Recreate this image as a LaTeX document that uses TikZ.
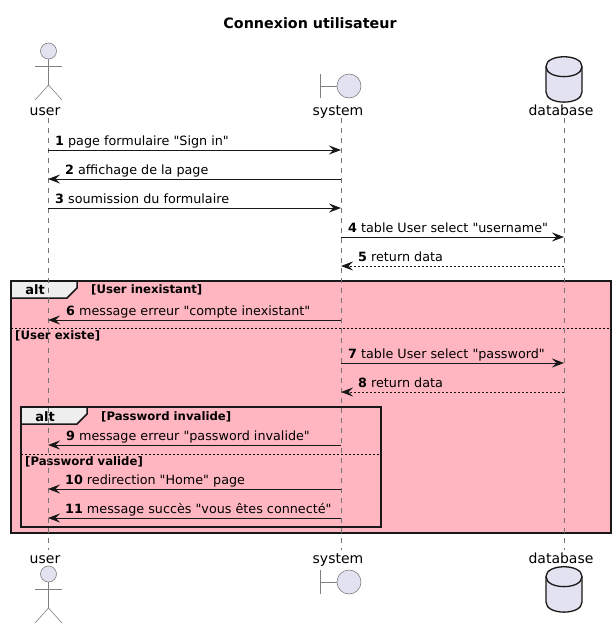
\documentclass[tikz,border=0pt]{standalone}
\usepackage{xcolor}
\usepackage{fontspec}
\setmainfont{DejaVu Sans}[Ligatures=TeXOff]
\usepackage{tikz}
\usetikzlibrary{arrows.meta,positioning}
\definecolor{partfill}{RGB}{226,226,240}
\definecolor{partline}{RGB}{24,24,24}
\definecolor{altpink}{RGB}{255,182,193}
\definecolor{tabgrey}{RGB}{238,238,238}
\tikzset{
  msgline/.style={-{Stealth[length=12pt,width=9pt,inset=4.5pt]},line width=1pt,partline},
  msgtext/.style={anchor=base west,inner sep=0pt,font=\fontsize{12.75}{15}\selectfont},
  partname/.style={anchor=base,inner sep=0pt,font=\fontsize{14}{16}\selectfont},
  lifeline/.style={partline!60,line width=0.5pt,dash pattern=on 5pt off 5pt},
  symline/.style={draw=partline!55,line width=0.6pt},
  symfill/.style={symline,fill=partfill},
  dbline/.style={draw=partline,fill=partfill,line width=1.3pt},
  altframe/.style={draw=partline,line width=2pt},
  alttab/.style={draw=partline,fill=tabgrey,line width=1.5pt},
  alttext/.style={anchor=base,inner sep=0pt,font=\fontsize{13}{15}\selectfont\bfseries},
  guardtext/.style={anchor=base west,inner sep=0pt,font=\fontsize{11.7}{13}\selectfont\bfseries},
  altsep/.style={black,line width=0.8pt,dash pattern=on 2pt off 2pt}
}
\begin{document}
\begin{tikzpicture}[x=1pt,y=-1pt]
  \useasboundingbox (0,0) rectangle (616,630);
  % Title
  \node[anchor=base,inner sep=0pt,font=\fontsize{14.3}{16}\selectfont\bfseries] (title) at (310,28) {Connexion utilisateur};
  % Outer alt
  \fill[altpink] (11,281) rectangle (611,533);
  \draw[alttab] (11,281) -- (77,281) -- (77,288) -- (67,298) -- (11,298) -- cycle;
  \draw[altframe] (11,281) rectangle (611,533);
  \node[alttext] (altOuter) at (35,294) {alt};
  \node[guardtext] (guardInexistant) at (91,293) {[User inexistant]};
  \draw[altsep] (11,328.5) -- (611,328.5);
  \node[guardtext] (guardExiste) at (15,339) {[User existe]};
  % Inner alt
  \draw[alttab] (21,407) -- (87,407) -- (87,414) -- (77,424) -- (21,424) -- cycle;
  \draw[altframe] (21,407) rectangle (381,526.5);
  \node[alttext] (altInner) at (45,421) {alt};
  \node[guardtext] (guardInvalide) at (101,420) {[Password invalide]};
  \draw[altsep] (21,454.5) -- (381,454.5);
  \node[guardtext] (guardValide) at (25,465) {[Password valide]};
  % Lifelines
  \foreach \who/\xx in {user/48,system/341,database/564} {
    \coordinate (\who Top) at (\xx,118);
    \coordinate (\who Bot) at (\xx,550);
    \draw[lifeline] (\who Top) -- (\who Bot);
  }
  % Names
  \foreach \pos/\yy in {Head/115,Foot/563} {
    \node[partname] (user\pos) at (45,\yy) {user};
    \node[partname] (system\pos) at (338,\yy) {system};
    \node[partname] (database\pos) at (561,\yy) {database};
  }
  % Actor and boundary, top and bottom
  \foreach \dy in {0,523} {
    \draw[symfill] (48.5,51+\dy) circle (8);
    \draw[symline] (48.5,59+\dy) -- (48.5,85+\dy);
    \draw[symline] (35,66+\dy) -- (62,66+\dy);
    \draw[symline] (35,100+\dy) -- (48.5,85+\dy) -- (62,100+\dy);
  }
  \foreach \dy in {0,496} {
    \draw[symline] (320.5,74+\dy) -- (320.5,98+\dy);
    \draw[symline] (320.5,86+\dy) -- (337,86+\dy);
    \draw[symfill] (349,86+\dy) circle (12);
  }
  % Database, top and bottom
  \foreach \dy in {0,510} {
    \draw[dbline] (546,66.5+\dy) .. controls (546,53.5+\dy) and (582,53.5+\dy) .. (582,66.5+\dy)
      -- (582,92+\dy) .. controls (582,105.5+\dy) and (546,105.5+\dy) .. (546,92+\dy) -- cycle;
    \draw[dbline] (546,66.5+\dy) .. controls (546,80+\dy) and (582,80+\dy) .. (582,66.5+\dy);
  }
  % Messages
  \foreach \n/\yy/\xa/\xb/\xt/\txt in {
    1/150/48/341/55/page formulaire "Sign in",
    2/179/341/48/65/affichage de la page,
    3/208/48/341/55/soumission du formulaire,
    6/320/341/48/66/message erreur "compte inexistant",
    7/363/341/564/348/table User select "password",
    9/445/341/48/66/message erreur "password invalide",
    10/489/341/48/65/redirection "Home" page,
    11/518/341/48/65/message succès "vous êtes connecté",
    4/237/341/564/348/table User select "username"} {
    \coordinate (from\n) at (\xa,\yy);
    \coordinate (to\n) at (\xb,\yy);
    \draw[msgline] (from\n) -- (to\n);
    \node[msgtext] (label\n) at (\xt,\yy-5) {\textbf{\n} \txt};
  }
  % Returns
  \foreach \n/\yy in {5/266,8/392} {
    \coordinate (from\n) at (564,\yy);
    \coordinate (to\n) at (341,\yy);
    \draw[msgline,dash pattern=on 2pt off 2pt] (from\n) -- (to\n);
    \node[msgtext] (label\n) at (358,\yy-5) {\textbf{\n} return data};
  }
\end{tikzpicture}
\end{document}
